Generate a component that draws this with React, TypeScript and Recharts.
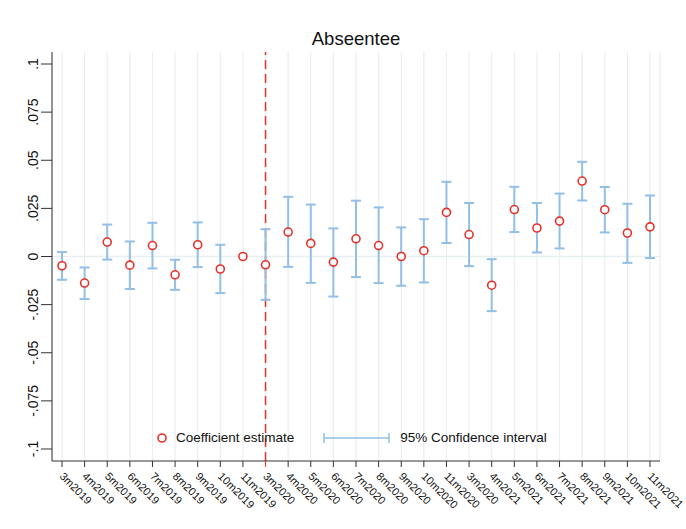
import React from "react";
import {
  ComposedChart,
  Scatter,
  XAxis,
  YAxis,
  CartesianGrid,
  ReferenceLine,
  ErrorBar,
} from "recharts";

const labels = [
  "3m2019", "4m2019", "5m2019", "6m2019", "7m2019", "8m2019", "9m2019", "10m2019", "11m2019",
  "3m2020", "4m2020", "5m2020", "6m2020", "7m2020", "8m2020", "9m2020", "10m2020", "11m2020",
  "3m2020", "4m2021", "5m2021", "6m2021", "7m2021", "8m2021", "9m2021", "10m2021", "11m2021",
];

const estimates = [
  -0.0048, -0.0138, 0.0075, -0.0045, 0.0057, -0.0095, 0.0061, -0.0065, 0,
  -0.0043, 0.0127, 0.0068, -0.0029, 0.0092, 0.0057, 0, 0.003, 0.0229,
  0.0114, -0.0149, 0.0244, 0.0148, 0.0184, 0.0392, 0.0243, 0.0122, 0.0154,
];

const ciLow = [
  -0.0121, -0.0221, -0.0016, -0.0169, -0.0062, -0.0173, -0.0055, -0.019, null,
  -0.0225, -0.0054, -0.0137, -0.0208, -0.0107, -0.0138, -0.0152, -0.0135, 0.007,
  -0.005, -0.0284, 0.0127, 0.0021, 0.0042, 0.0291, 0.0125, -0.0033, -0.0008,
];

const ciHigh = [
  0.0023, -0.0057, 0.0166, 0.0078, 0.0175, -0.0017, 0.0177, 0.0061, null,
  0.0142, 0.031, 0.027, 0.0146, 0.029, 0.0255, 0.0151, 0.0194, 0.0388,
  0.0278, -0.0014, 0.0362, 0.0278, 0.0327, 0.0492, 0.0361, 0.0274, 0.0317,
];

const yTicks = [-0.1, -0.075, -0.05, -0.025, 0, 0.025, 0.05, 0.075, 0.1];
const breakIndex = 9;

const data = labels.map((label, i) => {
  const lo = ciLow[i];
  const hi = ciHigh[i];
  return {
    idx: i,
    label,
    est: estimates[i],
    err: lo == null || hi == null ? null : [estimates[i] - lo, hi - estimates[i]],
  };
});

const RED = "#e8302a";
const BLUE = "#93bfe6";
const GRID = "#e8eff1";
const FONT = "'Liberation Sans', Arial, Helvetica, sans-serif";

const fmtY = (v: number) => {
  if (v === 0) return "0";
  return String(Number(v.toFixed(3))).replace("0.", ".");
};

const YTick = (props: any) => {
  const { x, y, payload } = props;
  return (
    <text
      x={x - 6}
      y={y}
      transform={`rotate(-90, ${x - 6}, ${y})`}
      textAnchor="middle"
      dominantBaseline="central"
      fontSize={14}
      fontFamily={FONT}
      fill="#111"
    >
      {fmtY(payload.value)}
    </text>
  );
};

const XTick = (props: any) => {
  const { x, y, payload } = props;
  const i = payload.value as number;
  const top = y - 2;
  return (
    <g>
      <line x1={x} x2={x} y1={top} y2={top + 6} stroke={i === breakIndex ? RED : "#333"} strokeWidth={1} />
      <text
        x={x - 3}
        y={top + 16}
        transform={`rotate(45, ${x - 3}, ${top + 16})`}
        textAnchor="start"
        fontSize={11}
        fontFamily={FONT}
        fill="#111"
      >
        {labels[i]}
      </text>
    </g>
  );
};

const Circle = (props: any) => {
  const { cx, cy } = props;
  if (cx == null || cy == null) return <g />;
  return <circle cx={cx} cy={cy} r={4} fill="#fff" stroke={RED} strokeWidth={1.6} />;
};

export default function App() {
  return (
    <div style={{ position: "absolute", left: 0, top: 0, width: 686, height: 529, background: "#fff" }}>
      <div
        style={{
          position: "absolute",
          left: 52,
          width: 608,
          top: 28,
          textAlign: "center",
          fontFamily: FONT,
          fontSize: 18.5,
          color: "#111",
        }}
      >
        Abseentee
      </div>
      <ComposedChart
        width={686}
        height={529}
        data={data}
        margin={{ top: 52, right: 26, bottom: 8, left: 12 }}
      >
        <CartesianGrid vertical horizontal={false} stroke={GRID} strokeWidth={1.2} />
        <XAxis
          dataKey="idx"
          type="number"
          domain={[-0.442, 26.442]}
          ticks={labels.map((_, i) => i)}
          interval={0}
          height={60}
          tickLine={false}
          tickSize={0}
          tickMargin={2}
          tick={<XTick />}
          axisLine={{ stroke: "#333" }}
        />
        <YAxis
          type="number"
          domain={[-0.10624, 0.10624]}
          ticks={yTicks}
          allowDataOverflow
          width={40}
          tickSize={11}
          tickMargin={2}
          tick={<YTick />}
          tickLine={{ stroke: "#333" }}
          axisLine={{ stroke: "#333" }}
        />
        <ReferenceLine y={0} stroke={GRID} strokeWidth={1.5} />
        <ReferenceLine x={breakIndex} stroke={RED} strokeWidth={1.5} strokeDasharray="9 5" />
        <Scatter dataKey="est" shape={() => <g />} isAnimationActive={false}>
          <ErrorBar dataKey="err" direction="y" width={5} stroke={BLUE} strokeWidth={2} />
        </Scatter>
        <Scatter dataKey="est" shape={<Circle />} isAnimationActive={false} />
      </ComposedChart>
      <div
        style={{
          position: "absolute",
          top: 430,
          left: 155,
          display: "flex",
          alignItems: "center",
          fontFamily: FONT,
          fontSize: 13.5,
          color: "#111",
        }}
      >
        <svg width={14} height={14} style={{ marginRight: 7 }}>
          <circle cx={7} cy={7} r={4} fill="#fff" stroke={RED} strokeWidth={1.6} />
        </svg>
        <span>Coefficient estimate</span>
        <svg width={68} height={12} style={{ marginLeft: 29, marginRight: 9 }}>
          <line x1={1} x2={66} y1={6} y2={6} stroke={BLUE} strokeWidth={1.5} />
          <line x1={1} x2={1} y1={1} y2={11} stroke={BLUE} strokeWidth={1.5} />
          <line x1={66} x2={66} y1={1} y2={11} stroke={BLUE} strokeWidth={1.5} />
        </svg>
        <span>95% Confidence interval</span>
      </div>
    </div>
  );
}
